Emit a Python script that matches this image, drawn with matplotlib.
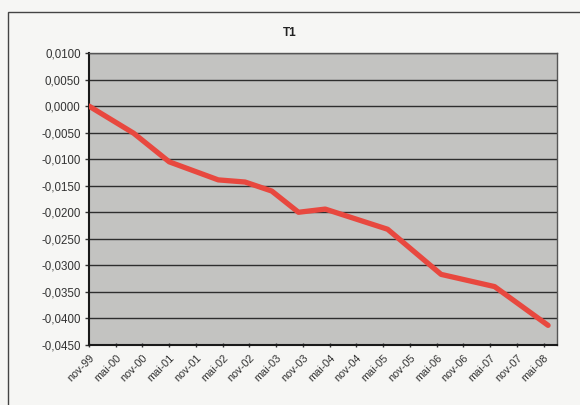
import matplotlib
matplotlib.use("Agg")
import matplotlib.pyplot as plt
from matplotlib.patches import Rectangle
from matplotlib.ticker import FuncFormatter

plt.rcParams['font.family'] = ['Liberation Sans', 'DejaVu Sans']

# months after nov-99 at which the line bends, and the values there
months = [0, 10, 18, 29, 35, 41, 47, 53, 60, 67, 79, 91, 103]
values = [0.0000, -0.0051, -0.0105, -0.0139, -0.0143, -0.0160, -0.0200,
          -0.0194, -0.0213, -0.0232, -0.0317, -0.0340, -0.0413]

tick_labels = ['nov-99', 'mai-00', 'nov-00', 'mai-01', 'nov-01', 'mai-02',
               'nov-02', 'mai-03', 'nov-03', 'mai-04', 'nov-04', 'mai-05',
               'nov-05', 'mai-06', 'nov-06', 'mai-07', 'nov-07', 'mai-08']
tick_months = [6 * i for i in range(len(tick_labels))]

fig = plt.figure(figsize=(5.8, 4.05), dpi=100, facecolor='#f6f6f4')
ax = fig.add_axes([89 / 580, 1 - 345 / 405, (557 - 89) / 580, (345 - 53) / 405])
ax.set_facecolor('#c3c3c1')

# outer chart frame (right and bottom edges fall outside the scan)
fig.patches.append(Rectangle((8 / 580, -0.05), 1.0, 1.05 - 12 / 405,
                             transform=fig.transFigure, fill=False,
                             edgecolor='#444444', linewidth=1.0))

ax.plot(months, values, color='#e8483f', linewidth=3.8, solid_joinstyle='round',
        solid_capstyle='round', zorder=3)

ax.set_xlim(0, 105)
ax.set_ylim(-0.045, 0.01)
ax.set_yticks([0.01 - 0.005 * i for i in range(12)])
ax.yaxis.set_major_formatter(FuncFormatter(lambda v, p: ('%.4f' % v).replace('.', ',').replace('-0,0000', '0,0000')))
ax.grid(axis='y', color='#2e2e2e', linewidth=1.0)
ax.set_axisbelow(True)

ax.set_xticks(tick_months)
ax.set_xticklabels(tick_labels, rotation=45, ha='right', rotation_mode='anchor')

ax.tick_params(axis='y', labelsize=8.3, colors='#333333', length=3, width=1, pad=3)
ax.tick_params(axis='x', labelsize=7.8, colors='#333333', length=3, width=1,
               direction='inout', pad=4)

for s in ['left', 'bottom']:
    ax.spines[s].set_color('#1a1a1a')
    ax.spines[s].set_linewidth(1.5)
for s in ['top', 'right']:
    ax.spines[s].set_color('#555555')
    ax.spines[s].set_linewidth(1.0)

fig.text(290 / 580, 1 - 33 / 405, 'T1', ha='center', va='center',
         fontsize=8.5, fontweight='bold', color='#222222')

fig.savefig('out.png', dpi=100, facecolor=fig.get_facecolor())
